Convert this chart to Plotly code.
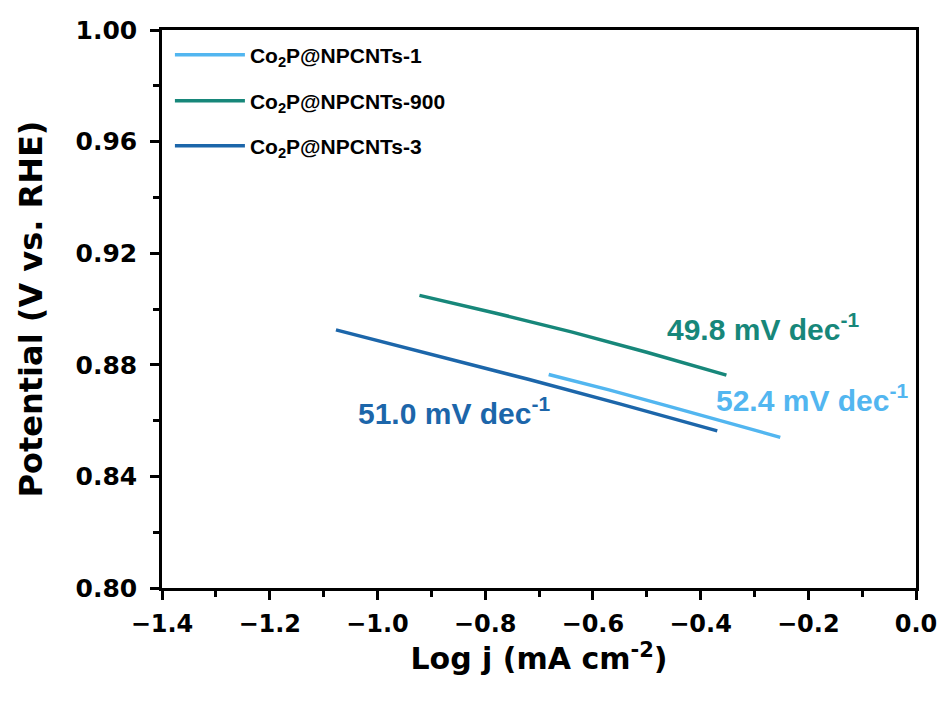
import plotly.graph_objects as go

names = ["Co<sub>2</sub>P@NPCNTs-1", "Co<sub>2</sub>P@NPCNTs-900", "Co<sub>2</sub>P@NPCNTs-3"]
colors = ["#52B6F0", "#17877A", "#1C66AA"]

x1 = [-0.682, -0.57, -0.46, -0.36, -0.252]
y1 = [0.8765, 0.8710, 0.8652, 0.8598, 0.8540]
x900 = [-0.922, -0.78, -0.64, -0.50, -0.352]
y900 = [0.9049, 0.8985, 0.8918, 0.8845, 0.8763]
x3 = [-1.077, -0.90, -0.72, -0.55, -0.369]
y3 = [0.8925, 0.8838, 0.8748, 0.8660, 0.8563]

slopes = ["52.4", "49.8", "51.0"]
label_x = [-0.193, -0.284, -0.857]
label_y = [0.868, 0.8935, 0.8635]

ARIAL = "Liberation Sans, Arial, sans-serif"
DEJAVU = "DejaVu Sans, Verdana, sans-serif"

fig = go.Figure()
series = [(x1, y1), (x900, y900), (x3, y3)]
legends = ["legend", "legend2", "legend3"]
for (xs, ys), n, c, lg in zip(series, names, colors, legends):
    fig.add_trace(go.Scatter(x=xs, y=ys, mode="lines", name="<b>" + n + "</b>",
                             line=dict(color=c, width=3.5), legend=lg, showlegend=True))

for s, lx, ly, c in zip(slopes, label_x, label_y, colors):
    fig.add_annotation(x=lx, y=ly, text="<b>" + s + " mV dec<sup>-1</sup></b>",
                       showarrow=False, font=dict(family=ARIAL, size=30, color=c))

leg_common = dict(font=dict(family=ARIAL, size=21, color="black"), bgcolor="rgba(0,0,0,0)",
                  xanchor="left", yanchor="middle", x=0.0105, itemwidth=70)
ys_leg = [1 - (55 - 30) / 558, 1 - (101 - 30) / 558, 1 - (146 - 30) / 558]

fig.update_layout(
    width=942, height=707,
    margin=dict(l=162, r=26, t=30, b=119),
    plot_bgcolor="white", paper_bgcolor="white",
    legend=dict(y=ys_leg[0], **leg_common),
    legend2=dict(y=ys_leg[1], **leg_common),
    legend3=dict(y=ys_leg[2], **leg_common),
    xaxis=dict(range=[-1.4, 0.0], tickmode="linear", tick0=-1.4, dtick=0.2,
               tickformat=".1f", ticks="outside", ticklen=9, tickwidth=2.5,
               tickcolor="black", linecolor="black", linewidth=2.5, mirror=True,
               showgrid=False, zeroline=False, ticklabelstandoff=3, automargin=False,
               tickfont=dict(family=DEJAVU, size=24, color="black", weight="bold"),
               minor=dict(ticks="outside", ticklen=6, tickwidth=2.5, dtick=0.1,
                          tick0=-1.4, tickcolor="black", showgrid=False),
               title=dict(text="<b>Log j (mA cm<sup>-2</sup>)</b>", standoff=12,
                          font=dict(family=DEJAVU, size=30, color="black"))),
    yaxis=dict(range=[0.80, 1.00], tickmode="linear", tick0=0.80, dtick=0.04,
               tickformat=".2f", ticks="outside", ticklen=9, tickwidth=2.5,
               tickcolor="black", linecolor="black", linewidth=2.5, mirror=True,
               showgrid=False, zeroline=False, ticklabelstandoff=8, automargin=False,
               tickfont=dict(family=DEJAVU, size=25, color="black", weight="bold"),
               minor=dict(ticks="outside", ticklen=6, tickwidth=2.5, dtick=0.02,
                          tick0=0.80, tickcolor="black", showgrid=False),
               title=dict(text="<b>Potential (V vs. RHE)</b>", standoff=24,
                          font=dict(family=DEJAVU, size=32, color="black"))),
)

fig.write_html("out.html")
